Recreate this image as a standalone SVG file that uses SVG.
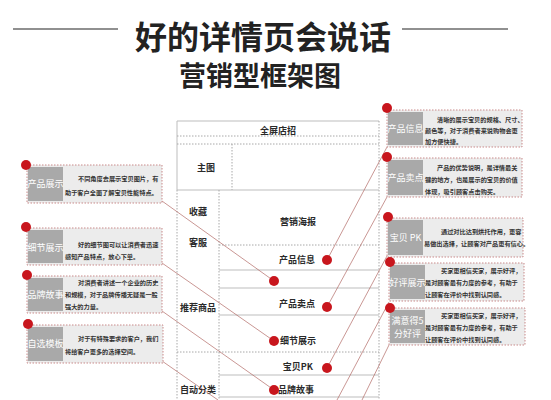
<svg xmlns="http://www.w3.org/2000/svg" width="551" height="400" viewBox="0 0 551 400">
<style>
.title{font-family:"Noto Sans CJK SC","Noto Sans",sans-serif;font-weight:700;fill:#222;text-anchor:middle}
.ctr{font-family:"Noto Sans CJK SC",sans-serif;font-size:9px;font-weight:700;fill:#2a2a2a}
.sol{stroke:#bdbdbd;stroke-width:1;fill:none}
.dot{stroke:#a8a8a8;stroke-width:1;stroke-dasharray:1.5 1.5;fill:none}
.cbox{fill:#ececec;stroke:#c98a8a;stroke-width:1;stroke-dasharray:1.5 1.5}
.glab{fill:#a9a9a9}
.lab{font-family:"Noto Sans CJK SC",sans-serif;font-size:9px;fill:#fff;text-anchor:middle}
.desc{font-family:"Noto Sans CJK SC",sans-serif;font-size:6.2px;font-weight:700;fill:#333}
.rd{fill:#c8161d}
.conn line{stroke:#b26a66;stroke-width:0.7}
</style>

<g id="title">
<line x1="13" y1="29" x2="118" y2="29" stroke="#222" stroke-width="1.2"/>
<line x1="402" y1="29" x2="508" y2="29" stroke="#222" stroke-width="1.2"/>
<text class="title" x="263" y="49" font-size="32">好的详情页会说话</text>
<text class="title" x="260" y="86" font-size="27">营销型框架图</text>
</g>

<g id="framework">
<line class="sol" x1="177" y1="121" x2="379" y2="121"/>
<line class="sol" x1="177" y1="121" x2="177" y2="190"/>
<line class="dot" x1="177" y1="190" x2="177" y2="400"/>
<line class="dot" x1="379" y1="121" x2="379" y2="400"/>
<line class="dot" x1="177" y1="136" x2="379" y2="136"/>
<line class="dot" x1="177" y1="144" x2="379" y2="144"/>
<line class="dot" x1="232" y1="144" x2="232" y2="190"/>
<line class="sol" x1="177" y1="190" x2="379" y2="190"/>
<line class="dot" x1="219" y1="190" x2="219" y2="400"/>
<line class="dot" x1="219" y1="245" x2="379" y2="245"/>
<line class="sol" x1="219" y1="270" x2="379" y2="270"/>
<line class="sol" x1="219" y1="288" x2="379" y2="288"/>
<line class="sol" x1="219" y1="315" x2="379" y2="315"/>
<line class="dot" x1="177" y1="352" x2="379" y2="352"/>
<line class="sol" x1="219" y1="375" x2="379" y2="375"/>
<line class="sol" x1="219" y1="397" x2="379" y2="397"/>
<text class="ctr" x="278" y="134" text-anchor="middle">全屏店招</text>
<text class="ctr" x="206" y="171" text-anchor="middle">主图</text>
<text class="ctr" x="198" y="215" text-anchor="middle">收藏</text>
<text class="ctr" x="198" y="246" text-anchor="middle">客服</text>
<text class="ctr" x="298" y="225" text-anchor="middle">营销海报</text>
<text class="ctr" x="315" y="263" text-anchor="end">产品信息</text>
<text class="ctr" x="315" y="307" text-anchor="end">产品卖点</text>
<text class="ctr" x="198" y="311" text-anchor="middle">推荐商品</text>
<text class="ctr" x="280" y="344">细节展示</text>
<text class="ctr" x="313" y="370" text-anchor="end">宝贝PK</text>
<text class="ctr" x="198" y="393" text-anchor="middle">自动分类</text>
<text class="ctr" x="278" y="393">品牌故事</text>
</g>

<g id="connectors" class="conn">
<line x1="162" y1="201" x2="274" y2="281"/>
<line x1="162" y1="263" x2="274" y2="341"/>
<line x1="162" y1="311" x2="274" y2="390"/>
<line x1="162" y1="361" x2="218" y2="400"/>
<line x1="387" y1="147" x2="327" y2="260"/>
<line x1="387" y1="197" x2="327" y2="307"/>
<line x1="387" y1="256" x2="327" y2="368"/>
<line x1="389" y1="302" x2="337" y2="400"/>
<line x1="389" y1="345" x2="362" y2="400"/>
</g>

<g id="center-dots">
<circle class="rd" cx="327" cy="260" r="5"/>
<circle class="rd" cx="274" cy="281" r="5"/>
<circle class="rd" cx="327" cy="307" r="5"/>
<circle class="rd" cx="274" cy="341" r="5"/>
<circle class="rd" cx="327" cy="368" r="5"/>
<circle class="rd" cx="274" cy="390" r="5"/>
</g>

<g id="c-chanpinzhanshi">
<rect class="cbox" x="27" y="165" width="135" height="38"/>
<rect class="glab" x="28" y="167" width="35" height="34"/>
<text class="lab" x="45.5" y="187">产品展示</text>
<text class="desc" x="78" y="181">不同角度去展示宝贝图片，有</text>
<text class="desc" x="65" y="195">助于客户全面了解宝贝性能特点。</text>
<circle class="rd" cx="26" cy="165" r="5"/>
</g>

<g id="c-xijiezhanshi">
<rect class="cbox" x="27" y="228" width="135" height="37"/>
<rect class="glab" x="28" y="230" width="35" height="33"/>
<text class="lab" x="45.5" y="251">细节展示</text>
<text class="desc" x="78" y="247">好的细节图可以让消费者迅速</text>
<text class="desc" x="65" y="259">感知产品特点，放心下单。</text>
<circle class="rd" cx="26" cy="227" r="5"/>
</g>

<g id="c-pinpaigushi">
<rect class="cbox" x="27" y="276" width="135" height="37"/>
<rect class="glab" x="28" y="278" width="35" height="33"/>
<text class="lab" x="45.5" y="298">品牌故事</text>
<text class="desc" x="78" y="285">对消费者讲述一个企业的历史</text>
<text class="desc" x="65" y="297">和规模，对于品牌传播无疑是一股</text>
<text class="desc" x="65" y="309">强大的力量。</text>
<circle class="rd" cx="27" cy="275" r="5"/>
</g>

<g id="c-zixuanmuban">
<rect class="cbox" x="27" y="325" width="136" height="38"/>
<rect class="glab" x="28" y="327" width="35" height="34"/>
<text class="lab" x="45.5" y="347">自选模板</text>
<text class="desc" x="78" y="341">对于有特殊要求的客户，我们</text>
<text class="desc" x="65" y="354">将给客户更多的选择空间。</text>
<circle class="rd" cx="28" cy="324" r="5"/>
</g>

<g id="c-chanpinxinxi">
<rect class="cbox" x="387" y="110" width="135" height="37"/>
<rect class="glab" x="388" y="112" width="35" height="33"/>
<text class="lab" x="405.5" y="132">产品信息</text>
<text class="desc" x="437" y="122">清晰的展示宝贝的规格、尺寸、</text>
<text class="desc" x="425" y="133">颜色等，对于消费者来说购物会更</text>
<text class="desc" x="425" y="144">加方便快捷。</text>
<circle class="rd" cx="387" cy="108" r="5"/>
</g>

<g id="c-chanpinmaidian">
<rect class="cbox" x="387" y="158" width="135" height="39"/>
<rect class="glab" x="388" y="160" width="35" height="35"/>
<text class="lab" x="405.5" y="181">产品卖点</text>
<text class="desc" x="437" y="170">产品的优势说明，是详情最关</text>
<text class="desc" x="425" y="182">键的地方，也是展示的宝贝的价值</text>
<text class="desc" x="425" y="194">体现，吸引顾客点击购买。</text>
<circle class="rd" cx="387" cy="157" r="5"/>
</g>

<g id="c-baobeipk">
<rect class="cbox" x="387" y="218" width="136" height="39"/>
<rect class="glab" x="388" y="220" width="35" height="35"/>
<text class="lab" x="405.5" y="241">宝贝 PK</text>
<text class="desc" x="441" y="234">通过对比达到烘托作用，更容</text>
<text class="desc" x="424" y="246">易做出选择，让顾客对产品更有信心。</text>
<circle class="rd" cx="388" cy="217" r="5"/>
</g>

<g id="c-haopingzhanshi">
<rect class="cbox" x="389" y="263" width="135" height="38"/>
<rect class="glab" x="390" y="265" width="35" height="34"/>
<text class="lab" x="407.5" y="286">好评展示</text>
<text class="desc" x="441" y="273">买家更相信买家，展示好评，</text>
<text class="desc" x="425" y="285">是对顾客最有力度的参考，有助于</text>
<text class="desc" x="425" y="297">让顾客在评价中找到认同感。</text>
<circle class="rd" cx="390" cy="262" r="5"/>
</g>

<g id="c-manyi">
<rect class="cbox" x="389" y="308" width="136" height="37"/>
<rect class="glab" x="390" y="310" width="35" height="33"/>
<text class="lab" x="407.5" y="324">满意得5</text>
<text class="lab" x="407.5" y="337">分好评</text>
<text class="desc" x="441" y="318">买家更相信买家，展示好评，</text>
<text class="desc" x="425" y="330">是对顾客最有力度的参考，有助于</text>
<text class="desc" x="425" y="342">让顾客在评价中找到认同感。</text>
<circle class="rd" cx="390" cy="308" r="5"/>
</g>
</svg>
